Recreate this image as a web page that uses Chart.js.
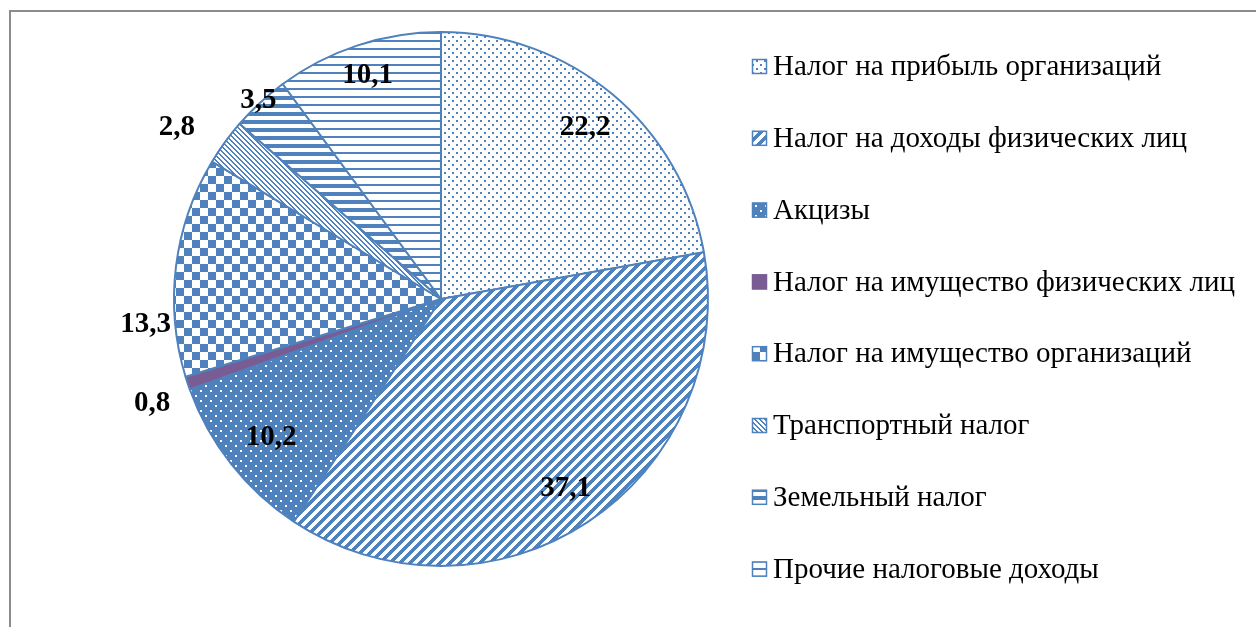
<!DOCTYPE html>
<html>
<head>
<meta charset="utf-8">
<script src="https://cdn.jsdelivr.net/npm/chart.js@4"></script>
<style>
  body { margin: 0; background: #fff; overflow: hidden; }
  #frame { position: absolute; left: 9px; top: 10px; width: 1400px; height: 800px;
           border-top: 2px solid #8c8c8c; border-left: 2px solid #8c8c8c; }
  #wrap { position: absolute; left: 0; top: 0; }
</style>
</head>
<body>
<div id="frame"></div>
<div id="wrap"><canvas id="taxChart" width="1256" height="627"></canvas></div>
<script>
const categories = [
  'Налог на прибыль организаций',
  'Налог на доходы физических лиц',
  'Акцизы',
  'Налог на имущество физических лиц',
  'Налог на имущество организаций',
  'Транспортный налог',
  'Земельный налог',
  'Прочие налоговые доходы'
];
const shares = [22.2, 37.1, 10.2, 0.8, 13.3, 2.8, 3.5, 10.1];
// where each value label sits: share of the radius, and a small turn (degrees) off the slice middle
const labelDist = [0.84, 0.85, 0.82, 1.15, 1.11, 1.18, 1.01, 0.88];
const labelTurn = [0, 0, -1, -1.5, -12, -3, 0, 0];

const BLUE = '#4f81bd';
const PURPLE = '#7a5c95';

function tile(size, bg, fg, test) {
  const c = document.createElement('canvas');
  c.width = size; c.height = size;
  const g = c.getContext('2d');
  g.fillStyle = bg;
  g.fillRect(0, 0, size, size);
  g.fillStyle = fg;
  for (let y = 0; y < size; y++) {
    for (let x = 0; x < size; x++) {
      if (test(x, y)) g.fillRect(x, y, 1, 1);
    }
  }
  return g.createPattern(c, 'repeat');
}

const fills = [
  // small dots
  tile(8, '#fff', BLUE, (x, y) => (x < 2 && y < 2) || (x >= 4 && x < 6 && y >= 4 && y < 6)),
  // wide upward diagonal
  tile(10, '#fff', BLUE, (x, y) => ((x + y) % 10) < 5),
  // blue with sparse white dots
  tile(10, BLUE, '#fff', (x, y) => (x < 2 && y < 2) || (x >= 5 && x < 7 && y >= 5 && y < 7)),
  PURPLE,
  // checkerboard
  tile(16, '#fff', BLUE, (x, y) => ((Math.floor(x / 8) + Math.floor(y / 8)) % 2) === 0),
  // fine downward diagonal
  tile(5, '#fff', BLUE, (x, y) => ((x - y + 10) % 5) < 2),
  // thick horizontal
  tile(8, '#fff', BLUE, (x, y) => y < 4),
  // thin horizontal
  tile(8, '#fff', BLUE, (x, y) => y < 2)
];

const sliceLabels = {
  id: 'sliceLabels',
  afterDatasetsDraw(chart) {
    const ctx = chart.ctx;
    const arcs = chart.getDatasetMeta(0).data;
    ctx.save();
    ctx.font = 'bold 29px "Liberation Serif"';
    ctx.fillStyle = '#000';
    ctx.textAlign = 'center';
    ctx.textBaseline = 'middle';
    arcs.forEach((arc, i) => {
      const p = arc.getProps(['x', 'y', 'startAngle', 'endAngle', 'outerRadius'], true);
      const mid = (p.startAngle + p.endAngle) / 2 + labelTurn[i] * Math.PI / 180;
      const r = p.outerRadius * labelDist[i];
      ctx.fillText(String(shares[i]).replace('.', ','), p.x + Math.cos(mid) * r, p.y + Math.sin(mid) * r);
    });
    ctx.restore();
  }
};

const sideLegend = {
  id: 'sideLegend',
  afterDraw(chart) {
    const ctx = chart.ctx;
    ctx.save();
    ctx.font = '29px "Liberation Serif"';
    ctx.textBaseline = 'middle';
    ctx.textAlign = 'left';
    categories.forEach((name, i) => {
      const cy = 66.5 + i * 71.8;
      ctx.fillStyle = fills[i];
      ctx.fillRect(752, cy - 7.5, 15, 15);
      ctx.strokeStyle = i === 3 ? PURPLE : BLUE;
      ctx.lineWidth = 1.5;
      ctx.strokeRect(752.5, cy - 7, 14, 14);
      ctx.fillStyle = '#000';
      ctx.fillText(name, 773, cy + 1);
    });
    ctx.restore();
  }
};

new Chart(document.getElementById('taxChart'), {
  type: 'pie',
  data: {
    labels: categories,
    datasets: [{
      data: shares,
      backgroundColor: fills,
      borderColor: BLUE,
      borderWidth: 2
    }]
  },
  options: {
    responsive: false,
    animation: false,
    layout: { padding: { left: 173, top: 31, right: 547, bottom: 60 } },
    plugins: {
      legend: { display: false },
      tooltip: { enabled: false }
    }
  },
  plugins: [sliceLabels, sideLegend]
});
</script>
</body>
</html>
